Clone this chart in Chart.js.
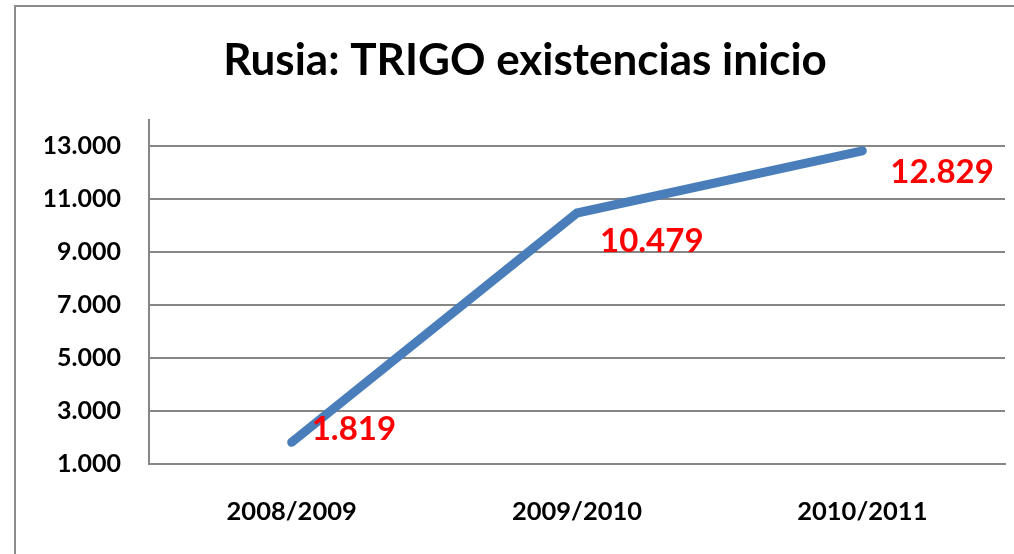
<!DOCTYPE html>
<html>
<head>
<meta charset="utf-8">
<script src="https://cdn.jsdelivr.net/npm/chart.js@4"></script>
<style>
  html, body { margin: 0; padding: 0; background: #fff; overflow: hidden; }
  #wrap { width: 1014px; height: 554px; position: relative; }
</style>
</head>
<body>
<div id="wrap"><canvas id="chart" width="1014" height="554"></canvas></div>
<script>
const titulo = 'Rusia: TRIGO existencias inicio';
const campanas = ['2008/2009', '2009/2010', '2010/2011'];
const existencias = [1819, 10479, 12829];
const ticksY = [1000, 3000, 5000, 7000, 9000, 11000, 13000];

// desplazamiento de cada etiqueta respecto a su punto (dx, dy)
const labelOffsets = [[20, -13], [23, 28], [28, 22]];

const FONT = 'Lato, "Open Sans", sans-serif';
const GRID = '#868686';

function formatMiles(v) {
  return String(Math.round(v)).replace(/\B(?=(\d{3})+(?!\d))/g, '.');
}

const marcoPlugin = {
  id: 'marco',
  beforeDraw(chart) {
    const ctx = chart.ctx;
    ctx.save();
    ctx.strokeStyle = '#8c8c8c';
    ctx.lineWidth = 2;
    ctx.strokeRect(15, 6, 1100, 700);
    ctx.restore();
  },
};

const etiquetasPlugin = {
  id: 'etiquetas',
  afterDatasetsDraw(chart) {
    const ctx = chart.ctx;
    const meta = chart.getDatasetMeta(0);
    ctx.save();
    ctx.fillStyle = '#ff0000';
    ctx.font = `bold 33px ${FONT}`;
    ctx.textAlign = 'left';
    ctx.textBaseline = 'middle';
    meta.data.forEach((pt, i) => {
      const [dx, dy] = labelOffsets[i];
      ctx.fillText(formatMiles(existencias[i]), pt.x + dx, pt.y + dy);
    });
    ctx.restore();
  },
};

new Chart(document.getElementById('chart').getContext('2d'), {
  type: 'line',
  data: {
    labels: campanas,
    datasets: [{
      data: existencias,
      borderColor: '#4A7EBB',
      borderWidth: 9,
      borderCapStyle: 'round',
      borderJoinStyle: 'miter',
      pointRadius: 0,
      tension: 0,
      fill: false,
    }],
  },
  options: {
    responsive: false,
    animation: false,
    layout: { padding: { left: 45, right: 9, top: 0, bottom: 0 } },
    plugins: {
      legend: { display: false },
      tooltip: { enabled: false },
      title: {
        display: true,
        text: titulo,
        color: '#000',
        font: { family: FONT, size: 44, weight: 'bold', lineHeight: 1.2 },
        padding: { top: 34, bottom: 33 },
      },
    },
    scales: {
      x: {
        offset: true,
        grid: { display: false, drawTicks: false, offset: true },
        border: { display: true, color: GRID, width: 2 },
        ticks: { color: '#000', font: { family: FONT, size: 25.5, weight: 'bold' }, padding: 32, maxRotation: 0 },
        afterFit(scale) { scale.height = 90; },
      },
      y: {
        min: 1000,
        max: 14000,
        grid: { color: GRID, lineWidth: 2, drawTicks: false },
        border: { display: true, color: GRID, width: 2 },
        ticks: {
          color: '#000',
          font: { family: FONT, size: 25, weight: 'bold' },
          padding: 28,
          callback: (v) => formatMiles(v),
        },
        afterBuildTicks(scale) { scale.ticks = ticksY.map((value) => ({ value })); },
        afterFit(scale) { scale.width = 104; },
      },
    },
  },
  plugins: [marcoPlugin, etiquetasPlugin],
});
</script>
</body>
</html>
